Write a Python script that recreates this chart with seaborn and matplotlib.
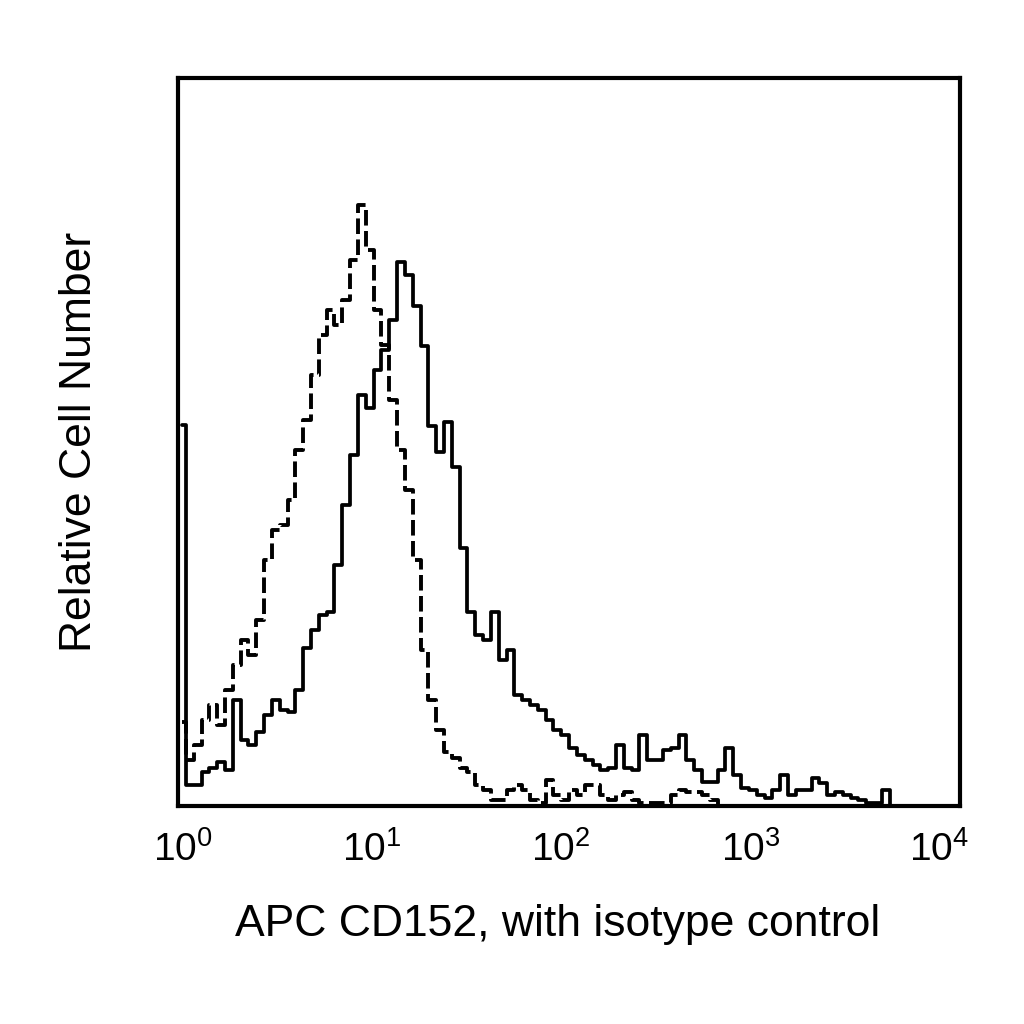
import numpy as np
import pandas as pd
import matplotlib
matplotlib.use("Agg")
import matplotlib.pyplot as plt
import matplotlib.transforms as mtransforms
import seaborn as sns

# Flow histogram: APC CD152 (solid) vs isotype control (dashed)
# 100 channels spread evenly over 4 log decades
n_channels = 100
edges = np.logspace(0, 4, n_channels + 1)
centers = np.sqrt(edges[:-1] * edges[1:])

cd152_counts = [
    381, 21, 21, 34, 38, 44, 36, 106, 66, 61,
    74, 91, 106, 96, 94, 116, 158, 176, 191, 194,
    241, 301, 351, 411, 398, 436, 456, 486, 544, 531,
    500, 460, 380, 354, 384, 339, 258, 194, 171, 166,
    194, 146, 156, 111, 106, 101, 96, 86, 76, 71,
    58, 51, 46, 41, 36, 38, 61, 38, 36, 71,
    46, 46, 56, 58, 71, 46, 36, 24, 24, 36,
    58, 31, 18, 16, 11, 8, 16, 31, 11, 16,
    16, 28, 23, 11, 14, 11, 8, 6, 3, 3,
    16, 0, 0, 0, 0, 0, 0, 0, 0, 0,
]

isotype_counts = [
    84, 46, 61, 86, 101, 81, 116, 141, 166, 151,
    186, 246, 276, 281, 306, 356, 386, 431, 471, 496,
    481, 506, 546, 601, 556, 496, 461, 406, 356, 316,
    246, 156, 106, 76, 54, 48, 38, 34, 21, 16,
    6, 6, 16, 21, 16, 6, 3, 26, 11, 6,
    16, 11, 21, 21, 11, 6, 11, 14, 6, 3,
    3, 3, 3, 11, 16, 14, 14, 11, 6, 0,
    0, 0, 0, 0, 0, 0, 0, 0, 0, 0,
    0, 0, 0, 0, 0, 0, 0, 0, 0, 0,
    0, 0, 0, 0, 0, 0, 0, 0, 0, 0,
]

tick_values = [1, 10, 100, 1000, 10000]
tick_labels = ["$10^{0}$", "$10^{1}$", "$10^{2}$", "$10^{3}$", "$10^{4}$"]
# labels in the original sit a little off their decades (pixels)
label_shift_px = [5, -1.5, -8, -13.5, -21]

df = pd.DataFrame({"fluor": centers, "cd152": cd152_counts, "isotype": isotype_counts})

sns.set_theme(style="white")
plt.rcParams["font.family"] = ["Liberation Sans", "DejaVu Sans"]
plt.rcParams["mathtext.fontset"] = "custom"
plt.rcParams["mathtext.rm"] = "Liberation Sans"
plt.rcParams["mathtext.it"] = "Liberation Sans"
plt.rcParams["text.color"] = "black"
plt.rcParams["axes.labelcolor"] = "black"
plt.rcParams["xtick.color"] = "black"

fig = plt.figure(figsize=(10.24, 10.24), dpi=100)
ax = fig.add_axes([178 / 1024, 1 - 806 / 1024, 782 / 1024, 728 / 1024])

sns.lineplot(data=df, x="fluor", y="isotype", ax=ax, color="black",
             drawstyle="steps-mid", linewidth=2.8, linestyle=(0, (4.0, 1.4)))
sns.lineplot(data=df, x="fluor", y="cd152", ax=ax, color="black",
             drawstyle="steps-mid", linewidth=2.7)

ax.set_xscale("log")
ax.set_xlim(1, 10000)
ax.set_ylim(0, 728)
ax.set_xticks(tick_values)
ax.set_xticklabels(tick_labels)
ax.minorticks_off()
ax.set_yticks([])
ax.tick_params(axis="x", length=0, pad=18, labelsize=28, colors="black")

for lbl, dx in zip(ax.get_xticklabels(), label_shift_px):
    shift = mtransforms.ScaledTranslation(dx / 100, 0, fig.dpi_scale_trans)
    lbl.set_transform(lbl.get_transform() + shift)

for s in ax.spines.values():
    s.set_linewidth(3)
    s.set_color("black")

ax.set_xlabel("APC CD152, with isotype control", fontsize=32)
ax.xaxis.set_label_coords(0.485, -0.135)
ax.set_ylabel("Relative Cell Number", fontsize=32, labelpad=56)

fig.savefig("out.png", dpi=100)
